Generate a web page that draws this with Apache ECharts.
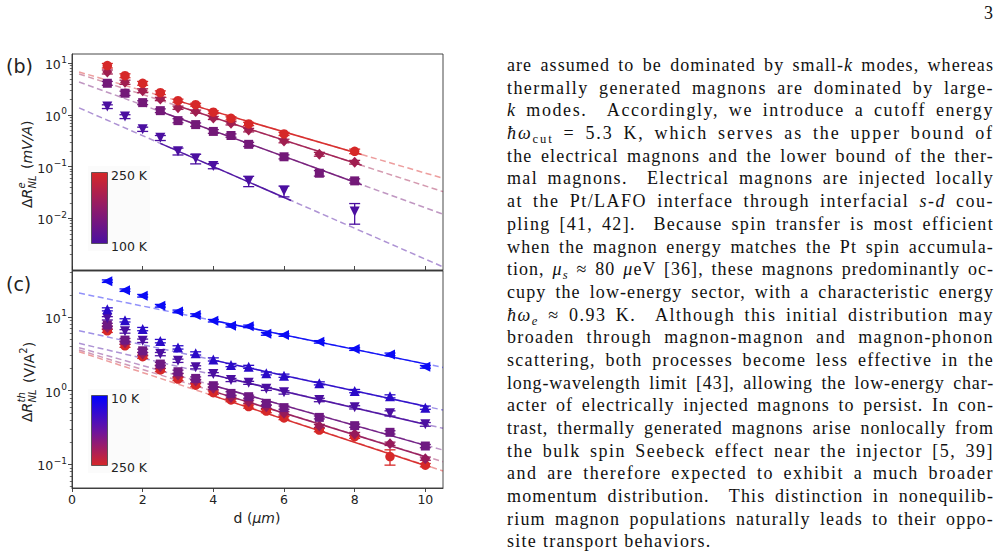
<!DOCTYPE html>
<html><head><meta charset="utf-8">
<script src="https://cdn.jsdelivr.net/npm/echarts@6.0.0/dist/echarts.min.js"></script>
<style>
html,body{margin:0;padding:0;background:#fff;width:1004px;height:552px;overflow:hidden;}
#chart{position:absolute;left:0;top:0;width:1004px;height:552px;}
#txt{position:absolute;left:507px;top:54px;width:487px;font-family:'Liberation Serif',serif;font-size:18px;line-height:22.7px;color:#111;}
#txt .l{text-align:justify;text-align-last:justify;height:22.7px;}
#txt .last{text-align:left;text-align-last:left;}
#txt sub{font-size:0.7em;vertical-align:-0.3em;line-height:0;}
#pg{position:absolute;left:984px;top:3px;font-family:'Liberation Serif',serif;font-size:18px;color:#111;}
</style></head>
<body>
<div id="chart"></div>
<div id="pg">3</div>
<div id="txt">
<div class="l">are assumed to be dominated by small-<i>k</i> modes, whereas</div>
<div class="l">thermally generated magnons are dominated by large-</div>
<div class="l"><i>k</i> modes. &nbsp;Accordingly, we introduce a cutoff energy</div>
<div class="l"><i>ħω</i><sub>cut</sub> = 5.3 K, which serves as the upper bound of</div>
<div class="l">the electrical magnons and the lower bound of the ther-</div>
<div class="l">mal magnons. &nbsp;Electrical magnons are injected locally</div>
<div class="l">at the Pt/LAFO interface through interfacial <i>s</i>-<i>d</i> cou-</div>
<div class="l">pling [41, 42]. &nbsp;Because spin transfer is most efficient</div>
<div class="l">when the magnon energy matches the Pt spin accumula-</div>
<div class="l">tion, <i>μ<sub>s</sub></i> ≈ 80 <i>μ</i>eV [36], these magnons predominantly oc-</div>
<div class="l">cupy the low-energy sector, with a characteristic energy</div>
<div class="l"><i>ħω<sub>e</sub></i> ≈ 0.93 K. &nbsp;Although this initial distribution may</div>
<div class="l">broaden through magnon-magnon and magnon-phonon</div>
<div class="l">scattering, both processes become less effective in the</div>
<div class="l">long-wavelength limit [43], allowing the low-energy char-</div>
<div class="l">acter of electrically injected magnons to persist. In con-</div>
<div class="l">trast, thermally generated magnons arise nonlocally from</div>
<div class="l">the bulk spin Seebeck effect near the injector [5, 39]</div>
<div class="l">and are therefore expected to exhibit a much broader</div>
<div class="l">momentum distribution. &nbsp;This distinction in nonequilib-</div>
<div class="l">rium magnon populations naturally leads to their oppo-</div>
<div class="l last">site transport behaviors.</div>
</div>
<script>
// ---------- Panel (b): electrical signal, mV/A ----------
const dB_circ = [1,1.5,2,2.5,3,3.5,4,4.5,5,6,8];
const vB_circ = [9.0,5.75,4.1,2.7,1.89,1.58,1.13,0.86,0.67,0.43,0.198];
const eB_circ = [0.9,0.5,0.35,0.22,0.13,0.1,0.07,0.06,0.05,0.03,0.02];
const dB_diam = [1,1.5,2,2.5,3,3.5,4,4.5,5,6,7,8];
const vB_diam = [6.8,4.3,2.95,2.04,1.38,1.16,0.875,0.69,0.51,0.314,0.174,0.122];
const eB_diam = [0.6,0.4,0.25,0.15,0.1,0.08,0.06,0.05,0.04,0.025,0.015,0.01];
const dB_sq = [1,1.5,2,2.5,3,3.5,4,4.5,5,6,7,8];
const vB_sq = [4.1,2.63,1.73,1.21,0.776,0.65,0.48,0.40,0.27,0.155,0.0745,0.053];
const eB_sq = [0.35,0.25,0.15,0.1,0.07,0.05,0.04,0.03,0.025,0.014,0.009,0.005];
const dB_tri = [1,1.5,2,2.5,3,3.5,4,5,6,8];
const vB_tri = [1.45,0.93,0.53,0.36,0.198,0.143,0.103,0.053,0.034,0.0135];
const eB_tri = [0.12,0.08,0.05,0.04,0.03,0.03,0.012,0.012,0.008,0.0058];
// fit lines (dashed: full extrapolation, solid: fitted range)
const fitB_dash = [[[0.2,6.78],[10.5,0.0596]],[[0.2,6.21],[10.5,0.0328]],[[0.2,4.35],[10.5,0.0120]],[[0.2,1.37],[10.5,0.00115]]];
const fitB_solid = [[[3,1.87],[8.2,0.171]],[[3,1.49],[8.2,0.106]],[[2.5,1.167],[8.2,0.0447]],[[2.5,0.281],[6.2,0.0221]]];

// ---------- Panel (c): thermal signal, V/A^2 ----------
const dC = [1,1.5,2,2.5,3,3.5,4,4.5,5,5.5,6,7,8,9,10];
const vC_left = [30.6,23.1,19.4,14.2,11.9,10.6,8.9,7.6,7.46,5.9,5.69,4.6,3.67,3.11,2.11];
const eC_left = [1.2,0.9,0.8,0.6,0.5,0.45,0.35,0.3,0.3,0.25,0.22,0.18,0.15,0.13,0.09];
const vC_up = [12.7,9.0,6.86,4.71,3.87,3.21,2.66,2.23,2.11,1.72,1.6,1.26,0.99,0.84,0.59];
const eC_up = [0.6,0.45,0.35,0.25,0.2,0.16,0.13,0.11,0.1,0.08,0.08,0.06,0.05,0.04,0.03];
const vC_down = [9.6,6.38,4.76,3.14,2.55,2.08,1.68,1.40,1.28,1.06,0.95,0.75,0.596,0.494,0.35];
const eC_down = [0.5,0.35,0.25,0.16,0.13,0.1,0.08,0.07,0.06,0.05,0.05,0.04,0.03,0.04,0.02];
const vC_sq = [7.8,4.86,3.48,2.3,1.81,1.47,1.17,0.92,0.83,0.675,0.59,0.435,0.336,0.273,0.178];
const eC_sq = [0.4,0.25,0.18,0.12,0.09,0.07,0.06,0.05,0.04,0.035,0.03,0.02,0.017,0.014,0.009];
const vC_diam = [7.2,4.47,3.14,2.11,1.63,1.35,1.08,0.81,0.71,0.607,0.494,0.333,0.259,0.191,0.12];
const eC_diam = [0.36,0.22,0.16,0.11,0.08,0.07,0.05,0.04,0.035,0.03,0.025,0.017,0.013,0.01,0.006];
const vC_circ = [6.5,4.07,2.89,1.91,1.44,1.19,0.94,0.75,0.61,0.53,0.427,0.293,0.238,0.128,0.098];
const eC_circ = [0.33,0.2,0.15,0.1,0.07,0.06,0.05,0.04,0.03,0.027,0.022,0.015,0.012,0.03,0.005];
const fitC_dash = [[[0.2,21.1],[10.5,2.07]],[[0.2,6.5],[10.5,0.547]],[[0.2,4.39],[10.5,0.309]],[[0.2,3.83],[10.5,0.157]],[[0.2,3.56],[10.5,0.109]],[[0.2,3.38],[10.5,0.0817]]];
const fitC_solid = [[[4,8.95],[10.1,2.26]],[[4,2.60],[10.1,0.60]],[[4,1.64],[10.1,0.340]],[[4,1.175],[10.1,0.176]],[[4,0.98],[10.1,0.1236]],[[4,0.851],[10.1,0.0933]]];

// ---------- tick labels ----------
const xTicks = [0,2,4,6,8,10];
const yTicksB = [0.01,0.1,1,10];
const yTicksC = [0.1,1,10];
const minorMult = [2,3,4,5,6,7,8,9];
const decadesB = [0.001,0.01,0.1,1];
const decadesC = [0.01,0.1,1,10];
const cbarB = ['250 K','100 K'];
const cbarC = ['10 K','250 K'];

// ---------- colours ----------
const colB = ['#d62828','#a01e50','#731978','#4b0fa0'];
const colC = ['#0a0af5','#2a0ac8','#4b0fa0','#6e1982','#961a5a','#d62828'];

const FONT = 'DejaVu Sans';
const TXT = '#222';
const AX = '#333';

// paragraph: widen letters so that lines fill the column like the TeX original
(function(){
  const W=487, lines=document.querySelectorAll('#txt .l');
  let sum=0,cnt=0;
  lines.forEach(el=>{
    if(el.classList.contains('last')) return;
    el.style.display='inline-block'; el.style.whiteSpace='nowrap'; el.style.width='auto';
    const w=el.getBoundingClientRect().width, n=el.textContent.length;
    el.style.display=''; el.style.whiteSpace=''; el.style.width='';
    const ls=Math.max(0,(W-w-3)/n*0.75);
    el.style.letterSpacing=ls.toFixed(3)+'px'; sum+=ls; cnt++;
  });
  const last=document.querySelector('#txt .last');
  if(last&&cnt) last.style.letterSpacing=(sum/cnt).toFixed(3)+'px';
})();

function minorList(decs, lo, hi){
  const out=[];
  decs.forEach(d=>minorMult.forEach(m=>{const v=m*d; if(v>lo&&v<hi) out.push(+v.toPrecision(3));}));
  return out;
}
const yMinB=0.001, yMaxB=15.1, yMinC=0.048, yMaxC=42;

function powLabel(v){
  const e=Math.round(Math.log10(v));
  return '{b|10}{e|'+(e<0?'\u2212'+(-e):e)+'}';
}
const labelRich = {
  b:{fontSize:12.5,fontFamily:FONT,color:TXT,verticalAlign:'bottom',lineHeight:16},
  e:{fontSize:9,fontFamily:FONT,color:TXT,verticalAlign:'top',lineHeight:16,padding:[0,0,0,0.5]}
};

function xAxisCfg(grid, showLabels){
  return {gridIndex:grid,type:'value',min:0,max:10.5,interval:2,
    axisLine:{show:true,onZero:false,lineStyle:{color:AX,width:0.9}},
    axisTick:{show:true,inside:!showLabels,length:4,customValues:xTicks,lineStyle:{color:AX,width:0.9}},
    axisLabel:{show:showLabels,customValues:xTicks,margin:5,fontSize:12.5,fontFamily:FONT,color:TXT},
    splitLine:{show:false}};
}
function yAxisMain(grid,lo,hi,ticks){
  return {gridIndex:grid,type:'log',logBase:10,min:lo,max:hi,
    axisLine:{show:true,onZero:false,lineStyle:{color:AX,width:0.9}},
    axisTick:{show:true,length:4,customValues:ticks,lineStyle:{color:AX,width:0.9}},
    axisLabel:{customValues:ticks,margin:5,formatter:powLabel,rich:labelRich},
    splitLine:{show:false},minorTick:{show:false}};
}
function yAxisMinor(grid,lo,hi,ticks){
  return {gridIndex:grid,type:'log',logBase:10,min:lo,max:hi,position:'left',
    axisLine:{show:false},
    axisTick:{show:true,length:2.2,customValues:ticks,lineStyle:{color:AX,width:0.7}},
    axisLabel:{show:false},splitLine:{show:false}};
}

const series=[];
function addFits(dash, solid, cols, xi, yi){
  dash.forEach((seg,i)=>series.push({type:'line',xAxisIndex:xi,yAxisIndex:yi,data:seg,symbol:'none',silent:true,z:1,
    lineStyle:{color:cols[i],width:1.5,type:[6,3.5],opacity:0.45}}));
  solid.forEach((seg,i)=>series.push({type:'line',xAxisIndex:xi,yAxisIndex:yi,data:seg,symbol:'none',silent:true,z:2,
    lineStyle:{color:cols[i],width:1.5,opacity:0.95}}));
}
function addPoints(d,v,e,color,symbol,rot,xi,yi){
  const data=d.map((x,i)=>[x,v[i],e[i]]);
  series.push({type:'custom',xAxisIndex:xi,yAxisIndex:yi,data:data,z:3,clip:false,silent:true,
    encode:{x:0,y:1},
    renderItem:function(params,api){
      const x=api.value(0), y=api.value(1), er=api.value(2);
      const lo=Math.max(y-er,y*0.05);
      const p1=api.coord([x,y+er]), p2=api.coord([x,lo]);
      const w=5.5, st={stroke:color,lineWidth:1.3};
      return {type:'group',children:[
        {type:'line',shape:{x1:p1[0],y1:p1[1],x2:p2[0],y2:p2[1]},style:st},
        {type:'line',shape:{x1:p1[0]-w,y1:p1[1],x2:p1[0]+w,y2:p1[1]},style:st},
        {type:'line',shape:{x1:p2[0]-w,y1:p2[1],x2:p2[0]+w,y2:p2[1]},style:st}
      ]};
    }});
  series.push({type:'scatter',xAxisIndex:xi,yAxisIndex:yi,data:data.map(p=>[p[0],p[1]]),z:4,silent:true,
    symbol:symbol,symbolRotate:rot,symbolSize:symbol==='diamond'?[10,11]:(symbol==='rect'?9:(symbol==='circle'?9.5:10)),
    itemStyle:{color:color,opacity:1}});
}

addFits(fitB_dash,fitB_solid,colB,0,0);
addPoints(dB_tri,vB_tri,eB_tri,colB[3],'triangle',180,0,0);
addPoints(dB_sq,vB_sq,eB_sq,colB[2],'rect',0,0,0);
addPoints(dB_diam,vB_diam,eB_diam,colB[1],'diamond',0,0,0);
addPoints(dB_circ,vB_circ,eB_circ,colB[0],'circle',0,0,0);

addFits(fitC_dash,fitC_solid,colC,1,2);
addPoints(dC,vC_circ,eC_circ,colC[5],'circle',0,1,2);
addPoints(dC,vC_diam,eC_diam,colC[4],'diamond',0,1,2);
addPoints(dC,vC_sq,eC_sq,colC[3],'rect',0,1,2);
addPoints(dC,vC_down,eC_down,colC[2],'triangle',180,1,2);
addPoints(dC,vC_up,eC_up,colC[1],'triangle',0,1,2);
addPoints(dC,vC_left,eC_left,colC[0],'triangle',90,1,2);

function t(x,y,text,font,extra){
  return Object.assign({type:'text',x:x,y:y,style:Object.assign({text:text,font:font,fill:TXT,verticalAlign:'middle',align:'left'},extra||{})});
}
const graphics=[
  // colorbar backgrounds
  {type:'rect',shape:{x:88,y:166,width:62,height:85},style:{fill:'#fbfbfb'},z:0},
  {type:'rect',shape:{x:88,y:389,width:62,height:84},style:{fill:'#fbfbfb'},z:0},
  {type:'rect',shape:{x:91.5,y:172.5,width:16,height:71},z:5,
    style:{fill:{type:'linear',x:0,y:0,x2:0,y2:1,colorStops:[{offset:0,color:'#d62728'},{offset:0.5,color:'#8f1b6a'},{offset:1,color:'#4b0fa0'}]},stroke:'#444',lineWidth:0.8}},
  {type:'rect',shape:{x:91.5,y:395.5,width:16,height:70},z:5,
    style:{fill:{type:'linear',x:0,y:0,x2:0,y2:1,colorStops:[{offset:0,color:'#0000ff'},{offset:0.5,color:'#6a14a0'},{offset:1,color:'#d62728'}]},stroke:'#444',lineWidth:0.8}},
  t(111,175,cbarB[0],'12.5px '+FONT),
  t(111,246,cbarB[1],'12.5px '+FONT),
  t(111,398,cbarC[0],'12.5px '+FONT),
  t(111,467,cbarC[1],'12.5px '+FONT),
  // panel letters
  t(6,66,'(b)','19px '+FONT),
  t(6,284,'(c)','19px '+FONT),
  // x axis title
  {type:'text',x:257,y:518,style:{text:'{n|d (}{i|μm}{n|)}',align:'center',verticalAlign:'middle',
    rich:{n:{font:'14px '+FONT,fill:TXT},i:{font:'italic 14px '+FONT,fill:TXT}}}},
  // y title (b)
  {type:'group',x:27,y:208,rotation:Math.PI/2,children:[
    t(0,0,'Δ','14px '+FONT),
    t(9.5,0,'R','italic 14px '+FONT),
    t(19.5,-6,'e','italic 10px '+FONT),
    t(19.5,5,'NL','italic 10px '+FONT),
    {type:'text',x:39,y:0,style:{text:'{n|(}{i|mV/A}{n|)}',verticalAlign:'middle',
      rich:{n:{font:'14px '+FONT,fill:TXT},i:{font:'italic 14px '+FONT,fill:TXT}}}}
  ]},
  // y title (c)
  {type:'group',x:27,y:422,rotation:Math.PI/2,children:[
    t(0,0,'Δ','14px '+FONT),
    t(9.5,0,'R','italic 14px '+FONT),
    t(19.5,-6,'th','italic 10px '+FONT),
    t(19.5,5,'NL','italic 10px '+FONT),
    {type:'text',x:39,y:0,style:{text:'{n|(V/A}{s|2}{n|)}',verticalAlign:'middle',
      rich:{n:{font:'14px '+FONT,fill:TXT,verticalAlign:'bottom',lineHeight:18},s:{font:'10px '+FONT,fill:TXT,verticalAlign:'top',lineHeight:18}}}}
  ]}
];

const option={
  animation:false,
  backgroundColor:'#fff',
  grid:[
    {left:72,top:54,width:371,height:216,show:true,borderColor:AX,borderWidth:0.9,backgroundColor:'transparent'},
    {left:72,top:271,width:371,height:217,show:true,borderColor:AX,borderWidth:0.9,backgroundColor:'transparent'}
  ],
  xAxis:[xAxisCfg(0,false),xAxisCfg(1,true)],
  yAxis:[
    yAxisMain(0,yMinB,yMaxB,yTicksB),
    yAxisMinor(0,yMinB,yMaxB,minorList(decadesB,yMinB,yMaxB)),
    yAxisMain(1,yMinC,yMaxC,yTicksC),
    yAxisMinor(1,yMinC,yMaxC,minorList(decadesC,yMinC,yMaxC))
  ],
  series:series,
  graphic:graphics
};
const chart=echarts.init(document.getElementById('chart'),null,{renderer:'svg'});
chart.setOption(option);
</script>
</body></html>
